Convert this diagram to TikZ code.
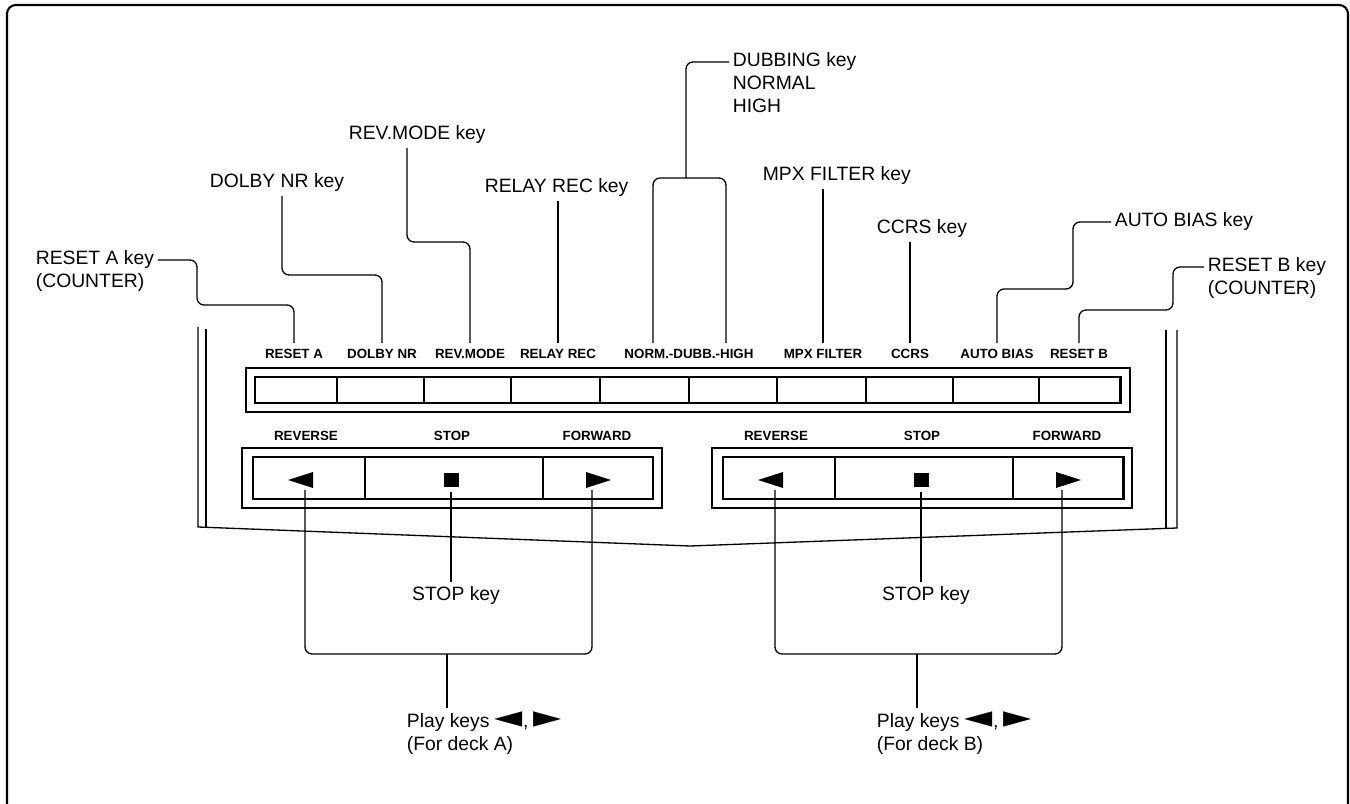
\documentclass[tikz,border=0pt]{standalone}
\usepackage{fontspec}
\setmainfont{Liberation Sans}
\newfontfamily\shapesfont{DejaVu Sans}

\newcommand\callfont{\fontsize{11pt}{13pt}\selectfont}
\newcommand\keyfont{\fontsize{7.6pt}{9pt}\selectfont\bfseries}
\newcommand\bigtri[1]{\raisebox{-0.3pt}{\scalebox{1.9}[1.6]{\shapesfont #1}}}

\tikzset{
  callout/.style={font=\callfont, inner sep=2pt, anchor=base west},
  keylabel/.style={font=\keyfont, inner sep=3pt, anchor=base},
  leader/.style={line width=0.75pt},
  frameline/.style={line width=1.2pt},
  cabinet/.style={line width=0.75pt},
  outerbox/.style={line width=0.85pt},
  innerbox/.style={line width=1.7pt},
  divider/.style={line width=0.9pt}
}

\begin{document}
\begin{tikzpicture}[x=0.02cm,y=-0.02cm]
\useasboundingbox (0,0) rectangle (1350,804);
\fill[white] (0,0) rectangle (1350,804);
% frame, open at the bottom
\draw[frameline, rounded corners=5pt] (7,804) -- (7,5) -- (1348,5) -- (1348,804);

% cabinet outline
\draw[cabinet] (198,327) -- (198,527) -- (690,546) -- (1177,528) -- (1177,330);
\draw[cabinet] (206,329) -- (206,527);
\draw[cabinet] (1166,330) -- (1166,528);

% function keys
\draw[outerbox] (246,368) rectangle (1130,412);
\draw[innerbox] (255,377) rectangle (1120,403);
\foreach \x in {337,424,511,600,689,777,866,953,1039}
  \draw[divider] (\x,377) -- (\x,403);

\node[keylabel] (lResetA) at (294,358) {RESET A};
\node[keylabel] (lDolby) at (382,358) {DOLBY NR};
\node[keylabel] (lRevMode) at (470,358) {REV.MODE};
\node[keylabel] (lRelay) at (558,358) {RELAY REC};
\node[keylabel] (lDubb) at (689,358) {NORM.-DUBB.-HIGH};
\node[keylabel] (lMpx) at (823,358) {MPX FILTER};
\node[keylabel] (lCcrs) at (910,358) {CCRS};
\node[keylabel] (lAutoBias) at (997,358) {AUTO BIAS};
\node[keylabel] (lResetB) at (1079,358) {RESET B};

% callouts above the panel
\node[callout] (nResetA) at (32,265) {RESET A key};
\node[callout] (nCounterA) at (32,288) {(COUNTER)};
\node[callout] (nDolby) at (206,188) {DOLBY NR key};
\node[callout] (nRevMode) at (345,140) {REV.MODE key};
\node[callout] (nRelay) at (481,193) {RELAY REC key};
\node[callout] (nDubbing) at (729,67) {DUBBING key};
\node[callout] (nNormal) at (729,90) {NORMAL};
\node[callout] (nHigh) at (729,113) {HIGH};
\node[callout] (nMpx) at (759,181) {MPX FILTER key};
\node[callout] (nCcrs) at (873,234) {CCRS key};
\node[callout] (nAutoBias) at (1111,227) {AUTO BIAS key};
\node[callout] (nResetB) at (1204,272) {RESET B key};
\node[callout] (nCounterB) at (1204,295) {(COUNTER)};

\coordinate (raBend) at (197,305);
\coordinate (dnBend) at (282,275);
\coordinate (rmBend) at (407,242);
\coordinate (dbJoin) at (686,178);
\coordinate (abBend) at (1073,289);
\coordinate (rbBend) at (1173,310);

\draw[leader] (nResetA.east) [rounded corners=4pt] -| (raBend) -- (lResetA.north |- raBend) [sharp corners] -- (lResetA.north);
\draw[leader] (dnBend |- nDolby.south) [rounded corners=4pt] -- (dnBend) -- (lDolby.north |- dnBend) [sharp corners] -- (lDolby.north);
\draw[leader] (rmBend |- nRevMode.south) [rounded corners=4pt] -- (rmBend) -- (lRevMode.north |- rmBend) [sharp corners] -- (lRevMode.north);
\draw[leader] (lRelay.north) -- (lRelay.north |- nRelay.south);
\draw[leader, rounded corners=4pt] ([xshift=-0.72cm]lDubb.north) |- (dbJoin) -| ([xshift=0.74cm]lDubb.north);
\draw[leader, rounded corners=4pt] (dbJoin) |- (nDubbing.west);
\draw[leader] (lMpx.north) -- (lMpx.north |- nMpx.south);
\draw[leader] (lCcrs.north) -- (lCcrs.north |- nCcrs.south);
\draw[leader] (nAutoBias.west) [rounded corners=4pt] -| (abBend) -- (lAutoBias.north |- abBend) [sharp corners] -- (lAutoBias.north);
\draw[leader] (nResetB.west) [rounded corners=4pt] -| (rbBend) -- (lResetB.north |- rbBend) [sharp corners] -- (lResetB.north);

% transport keys, deck A and deck B
\foreach \dx/\d in {0/A,470/B}{
\begin{scope}[shift={(\dx,0)}]
\draw[outerbox] (242,448) rectangle (662,508);
\draw[innerbox] (253,457) rectangle (653,499);
\draw[divider] (365,457) -- (365,499) (543,457) -- (543,499);
\fill (288,480) -- (313,472) -- (313,488) -- cycle;
\fill (444,473) rectangle (459,487);
\fill (611,480) -- (586,472) -- (586,488) -- cycle;
\node[keylabel] (rev\d) at (306,440) {REVERSE};
\node[keylabel] (stop\d) at (452,440) {STOP};
\node[keylabel] (fwd\d) at (597,440) {FORWARD};
\coordinate (revEnd\d) at (305,490);
\coordinate (stopEnd\d) at (451,492);
\coordinate (fwdEnd\d) at (592,490);
\coordinate (join\d) at (447,654);
\node[callout, anchor=base] (stopKey\d) at (456,600) {STOP key};
\node[callout] (play\d) at (403,727) {Play keys \bigtri{◄}, \bigtri{►}};
\node[callout] (deck\d) at (403,750) {(For deck \d)};
\draw[leader] (stopEnd\d) -- (stopEnd\d |- stopKey\d.north);
\draw[leader, rounded corners=4pt] (revEnd\d) |- (join\d) -| (fwdEnd\d);
\draw[leader] (join\d) -- (join\d |- play\d.north);
\end{scope}
}
\end{tikzpicture}
\end{document}
